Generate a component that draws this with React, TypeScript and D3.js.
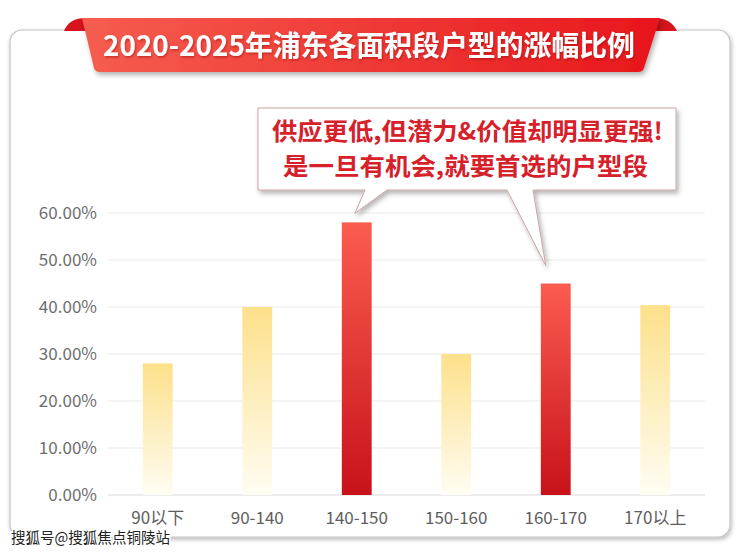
import React from "react";
import * as d3 from "d3";

const categories = ["90以下", "90-140", "140-150", "150-160", "160-170", "170以上"];
const growth = [28, 40, 58, 30, 45, 40.4];
const highlighted = ["140-150", "160-170"];
const yTicks = [0, 10, 20, 30, 40, 50, 60];

const title = "2020-2025年浦东各面积段户型的涨幅比例";
const calloutLines = ["供应更低,但潜力&价值却明显更强!", "是一旦有机会,就要首选的户型段"];
const watermark = "搜狐号@搜狐焦点铜陵站";

const W = 740;
const H = 553;
const plot = { left: 108, right: 705, top: 213, bottom: 495 };
const font = "'Noto Sans CJK SC', 'Noto Sans', sans-serif";

const App: React.FC = () => {
  const x = d3
    .scaleBand<string>()
    .domain(categories)
    .range([plot.left, plot.right])
    .paddingInner(0.7)
    .paddingOuter(0.35);

  const y = d3.scaleLinear().domain([0, 60]).range([plot.bottom, plot.top]);

  // callout pointers aim at the two highlighted bars
  const c1 = x("140-150")! + x.bandwidth() / 2;
  const c2 = x("160-170")! + x.bandwidth() / 2;
  const tip1 = y(growth[2]) - 9;
  const tip2 = y(growth[4]) - 18;
  const callout = `M258,108 H676 V190 H533 L${c2 - 10},${tip2} L507,190 H387 L${c1 - 2},${tip1} L365,190 H258 Z`;

  return (
    <svg
      width={W}
      height={H}
      style={{ position: "absolute", left: 0, top: 0, background: "#fff" }}
    >
      <defs>
        <filter id="cardShadow" x="-5%" y="-5%" width="110%" height="110%">
          <feDropShadow dx="1" dy="2" stdDeviation="2" floodColor="#000" floodOpacity="0.28" />
        </filter>
        <filter id="softShadow" x="-10%" y="-20%" width="120%" height="160%">
          <feDropShadow dx="2" dy="3" stdDeviation="2.5" floodColor="#000" floodOpacity="0.3" />
        </filter>
        <filter id="textShadow" x="-5%" y="-20%" width="110%" height="150%">
          <feDropShadow dx="1" dy="1.5" stdDeviation="1" floodColor="#8a0000" floodOpacity="0.45" />
        </filter>
        <linearGradient id="ribbonGrad" x1="0" y1="0" x2="1" y2="0">
          <stop offset="0%" stopColor="#f65d4f" />
          <stop offset="100%" stopColor="#e8161c" />
        </linearGradient>
        <linearGradient id="yellowGrad" x1="0" y1="0" x2="0" y2="1">
          <stop offset="0%" stopColor="#fce08a" />
          <stop offset="100%" stopColor="#fffdf3" />
        </linearGradient>
        <linearGradient id="redGrad" x1="0" y1="0" x2="0" y2="1">
          <stop offset="0%" stopColor="#fb5c50" />
          <stop offset="100%" stopColor="#c8121a" />
        </linearGradient>
      </defs>

      {/* card */}
      <rect
        x={10}
        y={30}
        width={720}
        height={507}
        rx={12}
        fill="#fff"
        stroke="#c4c4c4"
        strokeWidth={1.2}
        filter="url(#cardShadow)"
      />

      {/* title ribbon */}
      <path d="M86,18 Q69,18 64,31 L90,31 Z" fill="#d5141b" />
      <path d="M654,18 Q671,18 677,31 L650,31 Z" fill="#d5141b" />
      <path
        d="M82,18 H660 L644,68 Q643,72 638,72 H100 Q95,72 94,68 Z"
        fill="url(#ribbonGrad)"
        filter="url(#softShadow)"
      />
      <text
        x={103}
        y={56}
        textLength={532}
        lengthAdjust="spacingAndGlyphs"
        fill="#fff"
        fontFamily={font}
        fontWeight="bold"
        fontSize={28}
        filter="url(#textShadow)"
      >
        {title}
      </text>

      {/* grid and y labels */}
      {yTicks.map((t) => (
        <g key={t}>
          <line
            x1={plot.left}
            x2={plot.right}
            y1={y(t)}
            y2={y(t)}
            stroke={t === 0 ? "#d9d9d9" : "#e9e9e9"}
            strokeWidth={1}
          />
          <text
            x={97}
            y={y(t)}
            dy="0.35em"
            textAnchor="end"
            fill="#6e6e6e"
            fontFamily={font}
            fontSize={17}
          >
            {t.toFixed(2)}%
          </text>
        </g>
      ))}

      {/* bars */}
      {categories.map((c, i) => (
        <rect
          key={c}
          x={x(c)}
          y={y(growth[i])}
          width={x.bandwidth()}
          height={y(0) - y(growth[i])}
          fill={highlighted.includes(c) ? "url(#redGrad)" : "url(#yellowGrad)"}
        />
      ))}

      {/* x labels */}
      {categories.map((c) => (
        <text
          key={c}
          x={x(c)! + x.bandwidth() / 2}
          y={524}
          textAnchor="middle"
          fill="#5e5e5e"
          fontFamily={font}
          fontSize={17}
        >
          {c}
        </text>
      ))}

      {/* callout */}
      <path
        d={callout}
        fill="#fff"
        stroke="#c9a3a3"
        strokeWidth={1}
        filter="url(#softShadow)"
      />
      <text
        x={272}
        y={140}
        textLength={391}
        lengthAdjust="spacingAndGlyphs"
        fill="#d6202a"
        fontFamily={font}
        fontWeight="bold"
        fontSize={24}
      >
        {calloutLines[0]}
      </text>
      <text
        x={283}
        y={175}
        textLength={365}
        lengthAdjust="spacingAndGlyphs"
        fill="#d6202a"
        fontFamily={font}
        fontWeight="bold"
        fontSize={24}
      >
        {calloutLines[1]}
      </text>

      {/* watermark */}
      <text
        x={11}
        y={543}
        fill="#222"
        stroke="#fff"
        strokeWidth={3}
        paintOrder="stroke"
        fontFamily={font}
        fontSize={15}
        textLength={159}
        lengthAdjust="spacingAndGlyphs"
      >
        {watermark}
      </text>
    </svg>
  );
};

export default App;
